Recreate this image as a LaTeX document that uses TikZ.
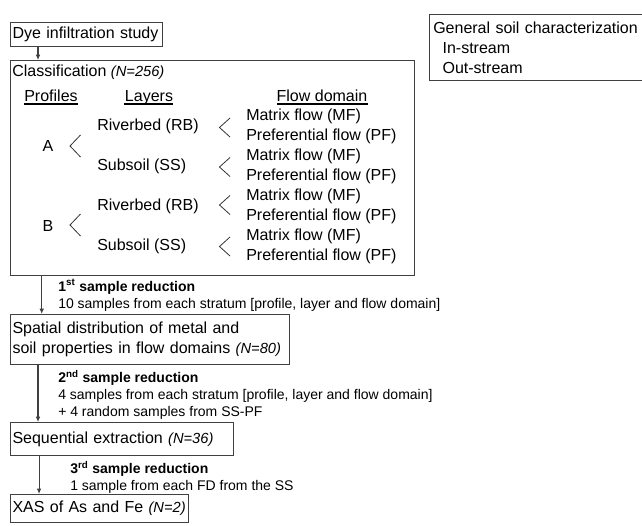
\documentclass[tikz,border=0pt]{standalone}
\usepackage{fontspec}
\setmainfont{Liberation Sans}
\usetikzlibrary{arrows.meta}

\tikzset{
   box/.style={draw=black!75,line width=0.8pt,inner xsep=1.5pt,inner ysep=0pt,
      anchor=north west,align=left,font=\fontsize{12}{15}\selectfont},
   txt/.style={inner sep=0pt,anchor=west,align=left,font=\fontsize{12}{15}\selectfont},
   head/.style={inner sep=0pt,anchor=base,font=\fontsize{12}{15}\selectfont},
   uline/.style={draw=black,line width=0.9pt},
   note/.style={inner sep=0pt,anchor=west,align=left,font=\fontsize{10.5}{12.75}\selectfont},
   arr/.style={draw=black!75,line width=0.8pt,-{Latex[length=4pt,width=3.5pt]}},
   chev/.style={draw=black!80,line width=0.6pt},
}
\newcommand{\nval}[1]{{\fontsize{11}{13}\selectfont\itshape(N=#1)}}

\begin{document}
\begin{tikzpicture}[x=0.75pt,y=-0.75pt]
   \useasboundingbox (0,0) rectangle (642,525);
   % boxes
   \node[box,minimum width=114pt,text width=111pt,minimum height=18pt] (dye) at (10,22) {Dye infiltration study};
   \node[box,minimum width=303pt,minimum height=161.25pt] (class) at (10,60) {};
   \node[box,minimum width=209.25pt,text width=206.25pt,minimum height=37.5pt] (spatial) at (10,314)
      {Spatial distribution of metal and\\soil properties in flow domains \nval{80}};
   \node[box,minimum width=167.25pt,text width=164.25pt,minimum height=25pt] (seqex) at (10,422)
      {Sequential extraction \nval{36}};
   \node[box,minimum width=133.5pt,text width=130.5pt,minimum height=21pt] (xas) at (10,494)
      {XAS of As and Fe \nval{2}};
   \node[box,inner xsep=2.8pt,minimum width=162pt,text width=156.4pt,minimum height=49.5pt] (general) at (429,14)
      {General soil characterization\\\hspace*{7pt}In-stream\\\hspace*{7pt}Out-stream};

   % classification content
   \node[txt] (classtitle) at (12,72.7) {Classification \nval{256}};
   \node[head] (hprof) at (51,101.5) {Profiles};
   \node[head] (hlay) at (149,101.5) {Layers};
   \node[head] (hflow) at (322,101.5) {Flow domain};
   \draw[uline] (24,104) -- (78,104);
   \draw[uline] (124,104) -- (173,104);
   \draw[uline] (277,104) -- (368,104);
   \node[head,anchor=center] (profA) at (48,146) {A};
   \node[head,anchor=center] (profB) at (48,226) {B};
   \node[txt] (rbA) at (97,126.7) {Riverbed (RB)};
   \node[txt] (ssA) at (97,166.7) {Subsoil (SS)};
   \node[txt] (rbB) at (97,206.7) {Riverbed (RB)};
   \node[txt] (ssB) at (97,246.7) {Subsoil (SS)};
   \node[txt] (fdrbA) at (246,126.7) {Matrix flow (MF)\\Preferential flow (PF)};
   \node[txt] (fdssA) at (246,166.7) {Matrix flow (MF)\\Preferential flow (PF)};
   \node[txt] (fdrbB) at (246,206.7) {Matrix flow (MF)\\Preferential flow (PF)};
   \node[txt] (fdssB) at (246,246.7) {Matrix flow (MF)\\Preferential flow (PF)};
   \draw[chev] (80.5,135) -- (70,146) -- (80.5,157);
   \draw[chev] (80.5,214) -- (70,225) -- (80.5,236);
   \draw[chev] (230,118) -- (219.5,127.5) -- (230,137);
   \draw[chev] (230,157.5) -- (219.5,167) -- (230,176.5);
   \draw[chev] (230,195.5) -- (219.5,205) -- (230,214.5);
   \draw[chev] (230,237) -- (219.5,246.5) -- (230,256);

   % sample reductions
   \node[note] (red1) at (58,295.3) {\textbf{1\textsuperscript{st} sample reduction}\\10 samples from each stratum [profile, layer and flow domain]};
   \node[note] (red2) at (58,394.7) {\textbf{2\textsuperscript{nd} sample reduction}\\4 samples from each stratum [profile, layer and flow domain]\\+ 4 random samples from SS-PF};
   \node[note] (red3) at (70,477.3) {\textbf{3\textsuperscript{rd} sample reduction}\\1 sample from each FD from the SS};

   % arrows
   \draw[arr] ([xshift=21pt]dye.south west) -- ([xshift=21pt]class.north west);
   \draw[arr] ([xshift=23.8pt]class.south west) -- ([xshift=23.8pt]spatial.north west);
   \draw[arr] ([xshift=21pt]spatial.south west) -- ([xshift=21pt]seqex.north west);
   \draw[arr] ([xshift=21.8pt]seqex.south west) -- ([xshift=21.8pt]xas.north west);
\end{tikzpicture}
\end{document}
